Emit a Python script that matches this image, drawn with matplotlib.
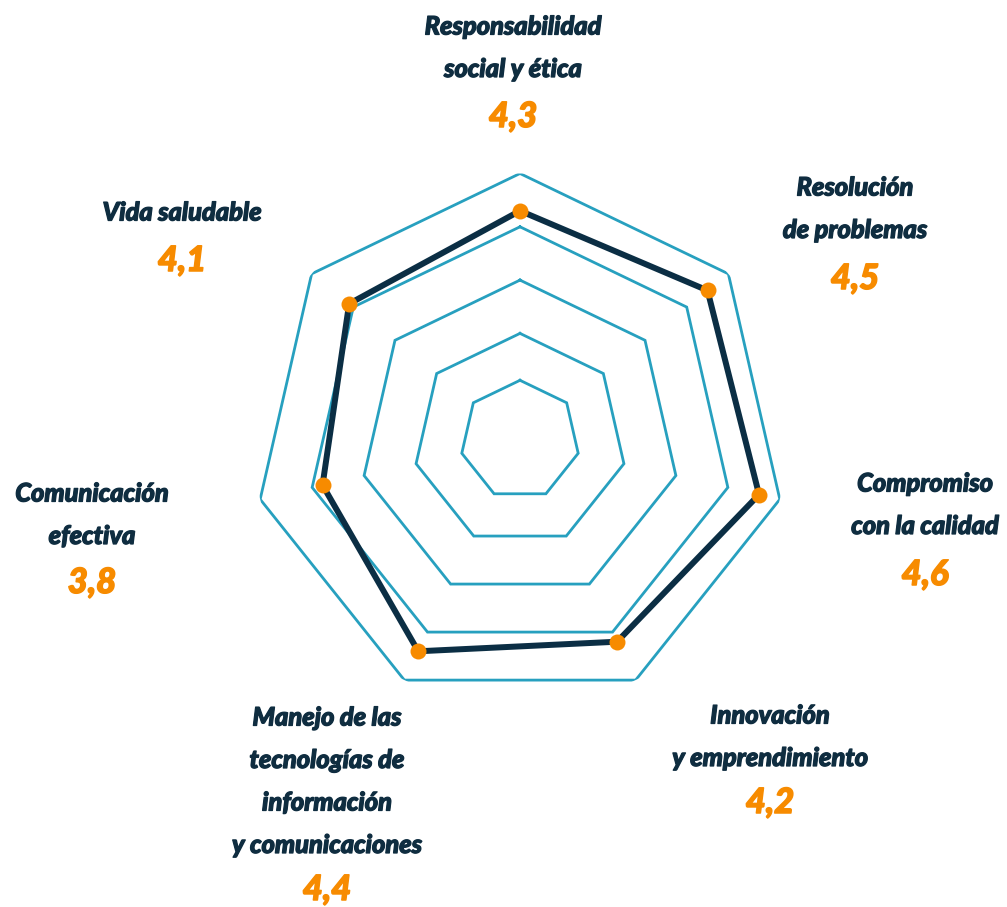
import numpy as np
import matplotlib
matplotlib.use("Agg")
import matplotlib.pyplot as plt
import matplotlib.patheffects as pe

# ---- data ----
categories = [
    "Responsabilidad\nsocial y ética",
    "Resolución\nde problemas",
    "Compromiso\ncon la calidad",
    "Innovación\ny emprendimiento",
    "Manejo de las\ntecnologías de\ninformación\ny comunicaciones",
    "Comunicación\nefectiva",
    "Vida saludable",
]
values = [4.3, 4.5, 4.6, 4.2, 4.4, 3.8, 4.1]
value_labels = ["4,3", "4,5", "4,6", "4,2", "4,4", "3,8", "4,1"]
grid_levels = [1.12, 2.0, 3.0, 4.0, 5.0]

# ---- style ----
W, H = 1007, 907
DPI = 100
NAVY = "#0b2e44"
TEAL = "#27a0bf"
ORANGE = "#f78b00"
TEXT = "#0f2d40"

fig = plt.figure(figsize=(W / DPI, H / DPI), dpi=DPI)
cx, cy, R = 520, 440, 266.5
ax = fig.add_axes([(cx - R) / W, (H - cy - R) / H, 2 * R / W, 2 * R / H],
                  projection="polar")
ax.set_theta_zero_location("N")
ax.set_theta_direction(-1)
ax.set_ylim(0, 5)
ax.grid(False)
ax.set_xticks([])
ax.set_yticks([])
ax.spines["polar"].set_visible(False)
ax.patch.set_alpha(0)

n = len(categories)
theta = np.arange(n) * 2 * np.pi / n
theta_c = np.append(theta, theta[0])

for lv in grid_levels:
    ax.plot(theta_c, [lv] * (n + 1), color=TEAL, lw=2.0, solid_joinstyle="miter", zorder=1)

vals_c = np.append(values, values[0])
ax.plot(theta_c, vals_c, color=NAVY, lw=4.3, solid_joinstyle="miter", zorder=2)
ax.plot(theta, values, "o", color=ORANGE, ms=11.5, mec="none", zorder=3)

# ---- labels ----
label_pos = [  # (x center, first line y, value y) in pixels
    (513, 27, 117),
    (855, 188, 279),
    (925, 484, 575),
    (770, 716, 803),
    (327, 718, 890),
    (92, 494, 583),
    (182, 213, 261),
]
line_gap = 42.5
font = dict(family=["Lato", "DejaVu Sans"], weight="black", style="italic")
for cat, vl, (x, y0, yv) in zip(categories, value_labels, label_pos):
    for k, line in enumerate(cat.split("\n")):
        fig.text(x / W, 1 - (y0 + k * line_gap) / H, line, ha="center", va="center",
                 fontsize=18.3, color=TEXT, **font,
                 path_effects=[pe.withStroke(linewidth=0.9, foreground=TEXT)])
    fig.text(x / W, 1 - yv / H, vl, ha="center", va="center",
             fontsize=25, color=ORANGE, **font,
             path_effects=[pe.withStroke(linewidth=1.1, foreground=ORANGE)])

fig.savefig("out.png", dpi=DPI)
